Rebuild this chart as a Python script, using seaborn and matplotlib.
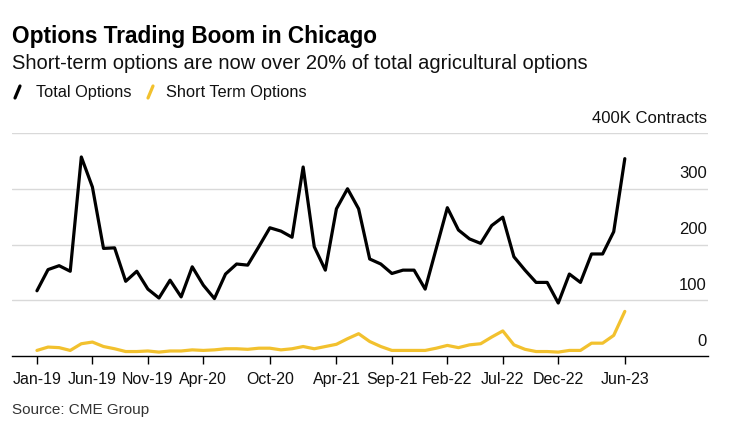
"""
Options trading boom in Chicago - monthly total vs short-term ag options
"""

import numpy as np
import pandas as pd
import matplotlib
matplotlib.use("Agg")
import matplotlib.pyplot as plt
import matplotlib.transforms as mtransforms
from matplotlib.lines import Line2D
import seaborn as sns

# Data (thousand contracts), monthly Jan-19 .. Jun-23
months = pd.date_range("2019-01-01", "2023-06-01", freq="MS").strftime("%b-%y").tolist()
total_options = [
    117, 155, 162, 152, 357, 303, 193, 194, 134, 152, 120, 104,
    136, 106, 160, 127, 103, 147, 165, 163, 196, 230, 224, 213,
    339, 196, 154, 264, 300, 264, 174, 165, 148, 154, 154, 120,
    193, 266, 226, 210, 202, 234, 249, 178, 154, 132, 132, 95,
    147, 132, 183, 183, 223, 354,
]
short_term_options = [
    10, 16, 15, 10, 22, 25, 17, 13, 8, 8, 9, 7,
    9, 9, 11, 10, 11, 13, 13, 12, 14, 14, 11, 13,
    17, 13, 17, 21, 31, 40, 26, 17, 10, 10, 10, 10,
    14, 19, 15, 20, 22, 34, 45, 20, 12, 8, 8, 7,
    10, 10, 23, 23, 37, 80,
]
tick_labels = ["Jan-19", "Jun-19", "Nov-19", "Apr-20", "Oct-20", "Apr-21",
               "Sep-21", "Feb-22", "Jul-22", "Dec-22", "Jun-23"]
y_ticks = [0, 100, 200, 300]

BLACK = "#000000"
YELLOW = "#F2C12E"
GRID = "#D9D9D9"

df = pd.DataFrame({
    "idx": np.arange(len(months)),
    "month": months,
    "Total Options": total_options,
    "Short Term Options": short_term_options,
})
long_df = df.melt(id_vars=["idx", "month"], var_name="series", value_name="value")

sns.set_theme(style="white")
plt.rcParams["font.family"] = ["Liberation Sans", "DejaVu Sans"]

fig = plt.figure(figsize=(7.33, 4.27), dpi=100)
ax = fig.add_axes([12 / 733, 70 / 427, 696 / 733, 223 / 427])

sns.lineplot(data=long_df, x="idx", y="value", hue="series",
             palette={"Total Options": BLACK, "Short Term Options": YELLOW},
             hue_order=["Short Term Options", "Total Options"],
             linewidth=2.3, legend=False, ax=ax)

ax.set_xlim(-2.25, 60.5)
ax.set_ylim(0, 400)

# gridlines
for v in [100, 200, 300, 400]:
    ax.axhline(v, color=GRID, linewidth=1, zorder=0)

for s in ["top", "right", "left"]:
    ax.spines[s].set_visible(False)
ax.spines["bottom"].set_color(BLACK)
ax.spines["bottom"].set_linewidth(1)

ax.set_yticks([])
ax.set_xlabel("")
ax.set_ylabel("")

tick_pos = [months.index(t) for t in tick_labels]
ax.set_xticks(tick_pos)
ax.set_xticklabels(tick_labels, fontsize=11.5, color="#111111")
ax.tick_params(axis="x", direction="out", length=6, width=1, color=BLACK,
               pad=5, bottom=True)

# right-side value labels, sitting above gridlines
trans = mtransforms.blended_transform_factory(ax.transAxes, ax.transData)
for v in y_ticks:
    ax.annotate(str(v), xy=(0.9985, v), xycoords=trans, xytext=(0, 6),
                textcoords="offset points", ha="right", va="bottom",
                fontsize=12, color="#111111")
ax.annotate("400K Contracts", xy=(0.9985, 400), xycoords=trans, xytext=(0, 6),
            textcoords="offset points", ha="right", va="bottom",
            fontsize=12, color="#111111")

# titles
fig.text(12 / 733, 1 - 36 / 427, "Options Trading Boom in Chicago",
         fontsize=16.3, fontweight="bold", va="center", ha="left", color=BLACK)
fig.text(12 / 733, 1 - 64 / 427,
         "Short-term options are now over 20% of total agricultural options",
         fontsize=14.5, va="center", ha="left", color="#111111")

# legend with slash markers
def slash(x0, color):
    fig.add_artist(Line2D([x0 / 733, (x0 + 5) / 733],
                          [1 - 99 / 427, 1 - 87 / 427],
                          color=color, linewidth=2.3,
                          transform=fig.transFigure))

slash(15, BLACK)
fig.text(36 / 733, 1 - 93 / 427, "Total Options", fontsize=11.8,
         va="center", ha="left", color="#111111")
slash(148, YELLOW)
fig.text(166 / 733, 1 - 93 / 427, "Short Term Options", fontsize=11.8,
         va="center", ha="left", color="#111111")

fig.text(12 / 733, 1 - 410 / 427, "Source: CME Group", fontsize=11,
         va="center", ha="left", color="#333333")

fig.savefig("out.png", dpi=100)
